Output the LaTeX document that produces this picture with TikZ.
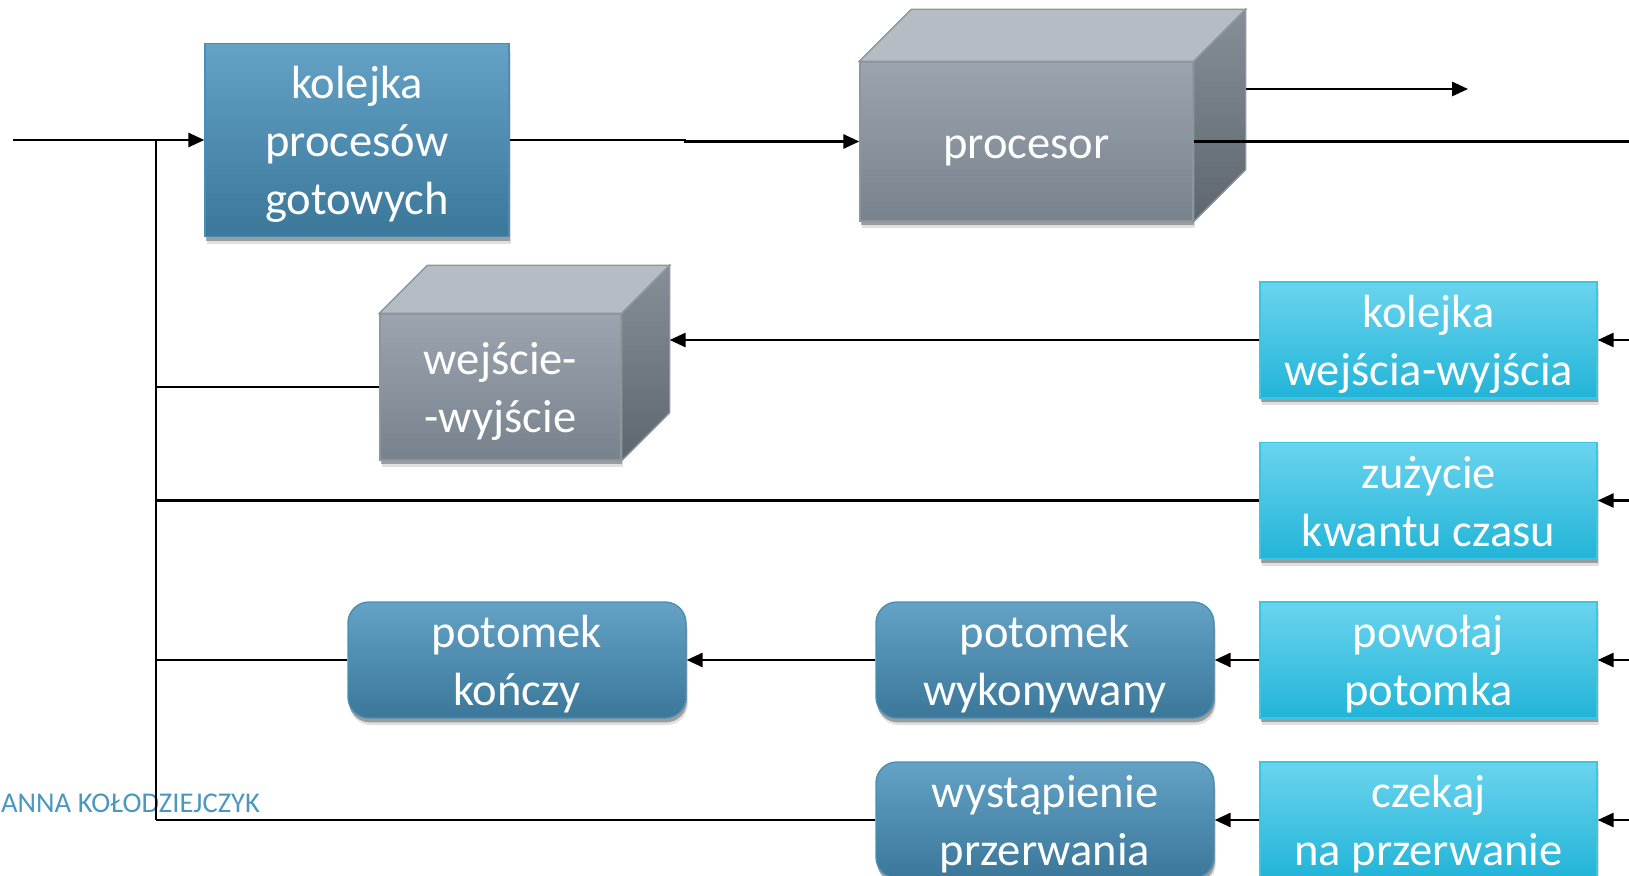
\documentclass[tikz,border=0pt]{standalone}
\usepackage{fontspec}
\setmainfont{Carlito}
\usetikzlibrary{positioning,calc,shadows,arrows.meta}
\definecolor{readytop}{HTML}{64A2C6}
\definecolor{readybot}{HTML}{3A7799}
\definecolor{readyline}{HTML}{4C8DB3}
\definecolor{eventtop}{HTML}{6AD4EE}
\definecolor{eventbot}{HTML}{22B4D8}
\definecolor{eventline}{HTML}{3CC6E6}
\definecolor{facetop}{HTML}{9CA5AF}
\definecolor{facebot}{HTML}{78828C}
\definecolor{lidcol}{HTML}{B6BCC4}
\definecolor{sidetop}{HTML}{868E97}
\definecolor{sidebot}{HTML}{5E666E}
\definecolor{cubeline}{HTML}{8C969F}
\definecolor{authorblue}{HTML}{4A97C0}
\newcommand{\blocklines}[1]{\raisebox{-3pt}[\height][\depth]{\begin{tabular}{@{}c@{}}#1\end{tabular}}}
\newcommand{\cubesides}[2]{%
  \filldraw[draw=cubeline, fill=lidcol, line width=0.8pt] (#1.north west) -- ++(#2,-#2)
    -- ($(#1.north east)+(#2,-#2)$) -- (#1.north east) -- cycle;
  \draw[draw=cubeline, top color=sidetop, bottom color=sidebot, line width=0.8pt] (#1.north east)
    -- ++(#2,-#2) -- ($(#1.south east)+(#2,-#2)$) -- (#1.south east) -- cycle;
}
\begin{document}
\begin{tikzpicture}[x=0.2mm, y=-0.2mm, line width=1.3pt, >={Triangle[length=9pt,width=8pt]},
    blockbase/.style={text=white, inner sep=0pt, line width=0.8pt,
        font=\fontsize{26.5}{33}\selectfont,
        drop shadow={shadow xshift=1pt, shadow yshift=-4pt, opacity=.12, fill=black},
        drop shadow={shadow xshift=0.5pt, shadow yshift=-2.5pt, opacity=.3, fill=black}},
    readybox/.style={blockbase, draw=readyline, top color=readytop, bottom color=readybot},
    childbox/.style={readybox, rounded corners=4.2mm, minimum width=67.6mm, minimum height=22.8mm},
    eventbox/.style={blockbase, draw=eventline, top color=eventtop, bottom color=eventbot,
        minimum width=67.4mm, minimum height=22.8mm},
    cubeface/.style={blockbase, draw=cubeline, top color=facetop, bottom color=facebot}]
    \useasboundingbox (0,0) rectangle (1629,876);
    \clip (0,0) rectangle (1629,876);
    \coordinate (in) at (13,140);
    \coordinate (bus) at (156,0);
    \coordinate (redge) at (1629,0);
    \coordinate (procout) at (1468,89);

    \node[readybox, minimum width=60.8mm, minimum height=38.6mm] (ready) at (357,140) {\blocklines{kolejka\\procesów\\gotowych}};
    \node[cubeface, minimum width=66.6mm, minimum height=31.8mm] (proc) at (1026.5,141.5) {\blocklines{procesor}};
    \cubesides{proc}{52}
    \node[cubeface, minimum width=48.2mm, minimum height=29.2mm] (io) at (500.5,387) {\blocklines{wejście-\\-wyjście}};
    \cubesides{io}{48}
    \coordinate (procback) at ($(proc.north east)+(52,-52)$);
    \coordinate (ioback) at ($(io.north east)+(48,-48)$);

    \node[eventbox] (ioqueue) at (1428.5,340) {\blocklines{kolejka\\wejścia-wyjścia}};
    \node[eventbox] (quantum) at (1428.5,500.5) {\blocklines{zużycie\\kwantu czasu}};
    \node[eventbox] (fork) at (1428.5,660) {\blocklines{powołaj\\potomka}};
    \node[eventbox] (wait) at (1428.5,820) {\blocklines{czekaj\\na przerwanie}};
    \node[childbox] (childrun) at (1045,660) {\blocklines{potomek\\wykonywany}};
    \node[childbox] (childend) at (517,660) {\blocklines{potomek\\kończy}};
    \node[childbox] (irq) at (1045,820) {\blocklines{wystąpienie\\przerwania}};

    \node[anchor=base west, inner sep=0pt, text=authorblue, font=\fontsize{16.3}{19}\selectfont] (author) at (0,812) {ANNA KOŁODZIEJCZYK};

    \draw[->] (in) -- (ready.west);
    \draw (bus |- ready.west) -- (bus |- irq.west);
    \draw[->] (ready.east) -- ++(175,0) |- (proc.west);
    \draw[->] (procout -| procback) -- (procout);
    \draw (proc.east) -- (proc.east -| redge);
    \draw (io.west) -- (io.west -| bus);
    \draw[->] (ioqueue.west) -- (ioqueue.west -| ioback);
    \draw (quantum.west) -- (quantum.west -| bus);
    \draw[->] (fork.west) -- (childrun.east);
    \draw[->] (childrun.west) -- (childend.east);
    \draw (childend.west) -- (childend.west -| bus);
    \draw[->] (wait.west) -- (irq.east);
    \draw (irq.west) -- (irq.west -| bus);
    \foreach \blk in {ioqueue,quantum,fork,wait}
        \draw[->] (\blk.east -| redge) -- (\blk.east);
\end{tikzpicture}
\end{document}
